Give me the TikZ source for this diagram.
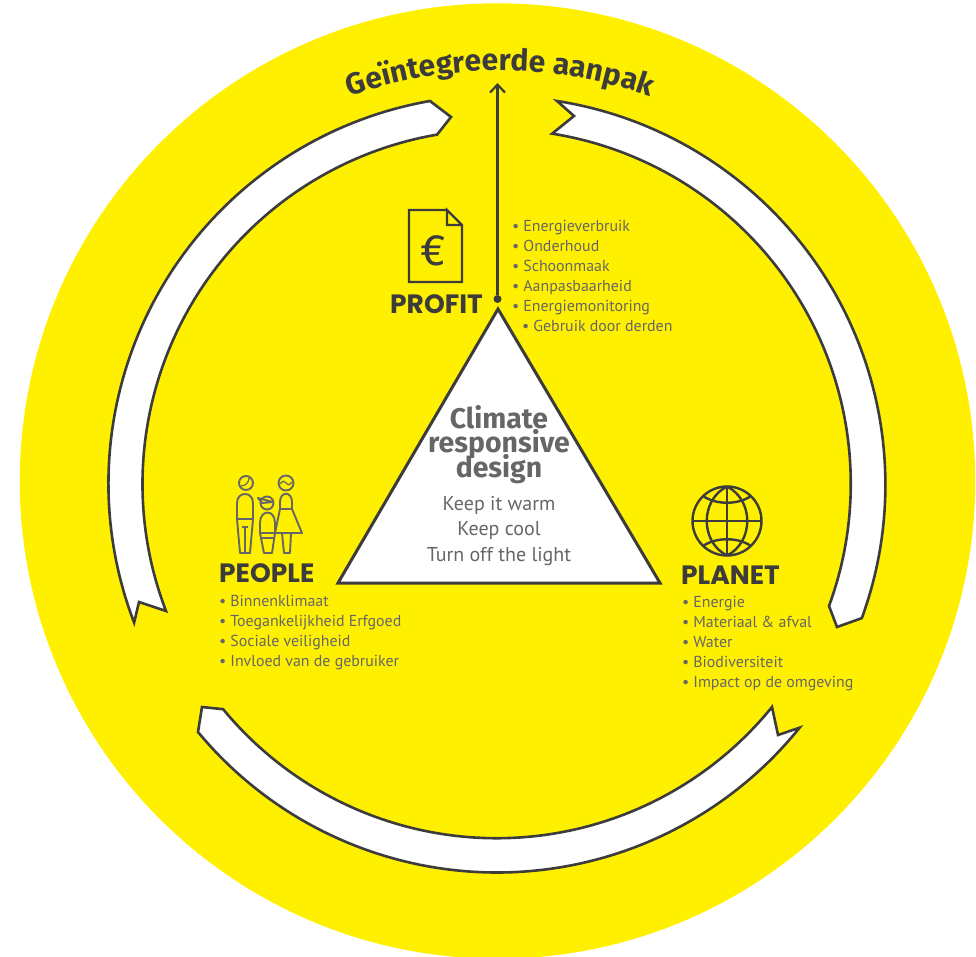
\documentclass[tikz,border=0pt]{standalone}
\usepackage{fontspec}
\setmainfont{PT Sans}
\newfontfamily\headfont{Poppins}
\newfontfamily\boldfont{Fira Sans}
\usetikzlibrary{arrows.meta,decorations.text}
\definecolor{sunyellow}{HTML}{FFF000}
\definecolor{ink}{HTML}{3C3C3C}
\definecolor{softink}{HTML}{666666}
\tikzset{
    ribbon/.style={draw=ink,line width=2.6pt,fill=white,line join=miter},
    icon/.style={draw=ink,line width=2.4pt},
    peopleicon/.style={draw=softink,line width=1.9pt,line join=round},
    pillar/.style={font=\headfont\bfseries\fontsize{26.5}{26.5}\selectfont,text=ink,inner sep=0pt,anchor=base west},
    itemlist/.style={font=\fontsize{15.9}{20}\selectfont,text=softink,inner sep=0pt,align=left,anchor=base west},
}
\newcommand{\itm}{\textbullet\hspace{4pt}}
\newcommand{\tightlines}{\setlength{\lineskiplimit}{-30pt}}
\begin{document}
\begin{tikzpicture}[x=1pt,y=-1pt]
    \useasboundingbox (0,0) rectangle (976,957);
    \fill[white] (0,0) rectangle (976,957);
    \fill[sunyellow] (497.5,481) circle[radius=477.7pt];
    % the three ribbons
    \draw[ribbon] (430,101) arc[start angle=99.92,end angle=200.95,radius=388.5pt]
        -- (139,602) -- (166,611) arc[start angle=200.99,end angle=99.73,radius=354.5pt]
        -- (451,117) -- cycle;
    \draw[ribbon] (557,101) arc[start angle=81.1,end angle=-20.07,radius=388.5pt]
        -- (837,627) -- (829,606) arc[start angle=-20.18,end angle=80.93,radius=354.5pt]
        -- (574,116) -- cycle;
    \draw[ribbon] (198,732) arc[start angle=219.67,end angle=321.15,radius=388.5pt]
        -- (778,735) -- (772,707) arc[start angle=320.96,end angle=219.5,radius=354.5pt]
        -- (202,707) -- cycle;
    % title on its arc
    \path[decorate,decoration={text along path,text align=center,
        text={|\boldfont\bfseries\fontsize{30}{30}\selectfont\color{ink}|Geïntegreerde aanpak}}]
        (242,152) arc[start angle=125,end angle=55,radius=450pt];
    % stem
    \node[circle,fill=ink,inner sep=0pt,minimum size=8pt] (stem) at (497.5,299) {};
    \coordinate (stemtop) at (497.5,83);
    \draw[ink,line width=2.2pt,-{Straight Barb[length=8pt,width=15pt]}] (stem) -- (stemtop);
    % triangle
    \draw[ribbon,line width=3pt] (498,309) -- (660,583) -- (338,583) -- cycle;
    \node[font=\boldfont\bfseries\fontsize{28.4}{24.5}\selectfont\tightlines,text=softink,align=center,inner sep=0pt,anchor=base] (design) at (499,477) {Climate\\responsive\\design};
    \node[font=\fontsize{20}{25.5}\selectfont,text=softink,align=center,inner sep=0pt,anchor=base] (rules) at (499,561) {Keep it warm\\Keep cool\\Turn off the light};
    % profit
    \draw[icon] (447,210) -- (409,210) -- (409,282) -- (462,282) -- (462,225) -- (447,210) -- (447,225) -- (462,225);
    \node[font=\boldfont\fontsize{44}{44}\selectfont,text=ink,inner sep=0pt] (euro) at (433,251) {€};
    \node[pillar] (profit) at (390,313) {PROFIT};
    \node[itemlist] (profitlist) at (512,331) {\itm Energieverbruik\\\itm Onderhoud\\\itm Schoonmaak\\\itm Aanpasbaarheid\\\itm Energiemonitoring\\\hspace{10pt}\itm Gebruik door derden};
    % people
    \draw[peopleicon] (246,483) circle[radius=7pt];
    \draw[peopleicon,line width=1.2pt] (241,486) .. controls (245,486) and (249,483) .. (249,478);
    \draw[peopleicon] (240,553) -- (237,519) -- (237,503) .. controls (237,491) and (253,491) .. (253,503) -- (253,519) -- (250,553) -- cycle;
    \draw[peopleicon] (237,519) -- (253,519);
    \draw[peopleicon] (242,527) -- (248,527);
    \draw[peopleicon] (245,527) -- (245,553);
    \draw[peopleicon] (286,483) circle[radius=7.5pt];
    \draw[peopleicon,line width=1.2pt] (280,484) .. controls (283,480) and (285,481) .. (286,483) .. controls (287,485) and (289,486) .. (292,482);
    \draw[peopleicon] (280,509) -- (280,502) .. controls (280,491) and (292,491) .. (292,502) -- (292,509) -- (302,533) -- (275,533) -- (280,509) -- (292,509);
    \draw[peopleicon] (282,533) -- (284,553) -- (290,553) -- (291,533);
    \draw[peopleicon] (267,503) circle[radius=6.5pt];
    \draw[peopleicon] (258,498) -- (273,502) -- (262,503) -- cycle;
    \draw[peopleicon] (264,553) -- (260,533) -- (260,523) .. controls (260,509) and (275,509) .. (275,523) -- (275,533) -- (272,553) -- cycle;
    \draw[peopleicon] (260,533) -- (275,533);
    \draw[peopleicon] (261,538) -- (274,538);
    \node[pillar] (people) at (219,582) {PEOPLE};
    \node[itemlist] (peoplelist) at (219,666) {\itm Binnenklimaat\\\itm Toegankelijkheid Erfgoed\\\itm Sociale veiligheid\\\itm Invloed van de gebruiker};
    % planet
    \draw[icon] (727,521) circle[radius=34.5pt];
    \draw[icon] (727,486.5) -- (727,555.5);
    \draw[icon] (692.5,521) -- (761.5,521);
    \draw[icon] (727,486.5) .. controls (700,500) and (700,542) .. (727,555.5);
    \draw[icon] (727,486.5) .. controls (754,500) and (754,542) .. (727,555.5);
    \draw[icon] (703,496) .. controls (716,505) and (738,505) .. (751,496);
    \draw[icon] (703,546) .. controls (716,537) and (738,537) .. (751,546);
    \node[pillar] (planet) at (681,584) {PLANET};
    \node[itemlist] (planetlist) at (682,687) {\itm Energie\\\itm Materiaal \& afval\\\itm Water\\\itm Biodiversiteit\\\itm Impact op de omgeving};
\end{tikzpicture}
\end{document}
